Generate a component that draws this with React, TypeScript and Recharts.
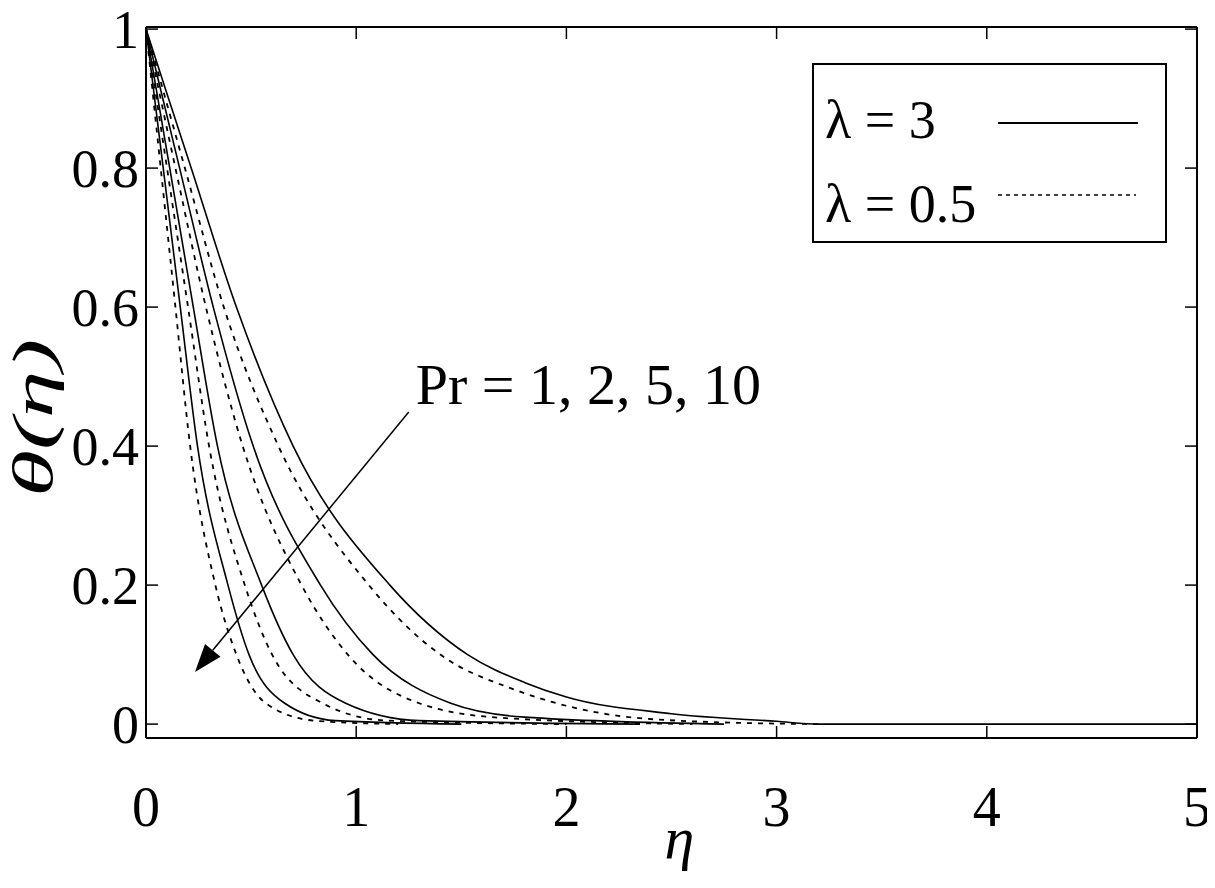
import React from "react";
import { LineChart, Line, XAxis, YAxis, ReferenceLine, Legend, Label } from "recharts";

// eta / theta, one pair of arrays per curve
const etaPr1L3 = [0, 0.215, 0.43, 0.7, 1.16, 1.53, 1.8, 2.0, 2.5, 3.0, 3.2, 5];
const thetaPr1L3 = [1, 0.8, 0.6, 0.4, 0.2, 0.1, 0.06, 0.039, 0.015, 0.004, 0, 0];
const etaPr1L05 = [0, 0.185, 0.37, 0.63, 1.06, 1.4, 1.75, 2.16, 2.6, 3.2];
const thetaPr1L05 = [1, 0.8, 0.6, 0.4, 0.2, 0.1, 0.05, 0.016, 0.004, 0];

const etaPr2L3 = [0, 0.16, 0.32, 0.51, 0.83, 1.08, 1.45, 1.8, 2.75];
const thetaPr2L3 = [1, 0.8, 0.6, 0.4, 0.2, 0.1, 0.03, 0.01, 0];
const etaPr2L05 = [0, 0.14, 0.285, 0.46, 0.74, 0.96, 1.3, 1.69, 2.6];
const thetaPr2L05 = [1, 0.8, 0.6, 0.4, 0.2, 0.1, 0.03, 0.009, 0];

const etaPr5L3 = [0, 0.113, 0.225, 0.34, 0.55, 0.7, 0.95, 1.3, 2.35];
const thetaPr5L3 = [1, 0.8, 0.6, 0.4, 0.2, 0.1, 0.03, 0.005, 0];
const etaPr5L05 = [0, 0.1, 0.2, 0.3, 0.47, 0.6, 0.84, 1.15, 2.0];
const thetaPr5L05 = [1, 0.8, 0.6, 0.4, 0.2, 0.1, 0.03, 0.005, 0];

const etaPr10L3 = [0, 0.082, 0.163, 0.245, 0.39, 0.49, 0.66, 0.9, 1.5];
const thetaPr10L3 = [1, 0.8, 0.6, 0.4, 0.2, 0.1, 0.03, 0.005, 0];
const etaPr10L05 = [0, 0.07, 0.14, 0.21, 0.33, 0.43, 0.57, 0.8, 1.2];
const thetaPr10L05 = [1, 0.8, 0.6, 0.4, 0.2, 0.1, 0.03, 0.005, 0];

const xTicks = [0, 1, 2, 3, 4, 5];
const yTicks = [0, 0.2, 0.4, 0.6, 0.8, 1];
const legendLabels = ["λ = 3", "λ = 0.5"];
const annotation = "Pr = 1, 2, 5, 10";
// arrow runs from the label towards increasing Pr
const arrowFrom = { x: 1.25, y: 0.449 };
const arrowTo = { x: 0.233, y: 0.075 };

const FONT = "'Liberation Serif', 'Times New Roman', serif";

const toPoints = (eta: number[], theta: number[]) =>
  eta.map((e, i) => ({ eta: e, theta: theta[i] }));

const curves = [
  { key: "pr1-l3", data: toPoints(etaPr1L3, thetaPr1L3), dashed: false },
  { key: "pr1-l05", data: toPoints(etaPr1L05, thetaPr1L05), dashed: true },
  { key: "pr2-l3", data: toPoints(etaPr2L3, thetaPr2L3), dashed: false },
  { key: "pr2-l05", data: toPoints(etaPr2L05, thetaPr2L05), dashed: true },
  { key: "pr5-l3", data: toPoints(etaPr5L3, thetaPr5L3), dashed: false },
  { key: "pr5-l05", data: toPoints(etaPr5L05, thetaPr5L05), dashed: true },
  { key: "pr10-l3", data: toPoints(etaPr10L3, thetaPr10L3), dashed: false },
  { key: "pr10-l05", data: toPoints(etaPr10L05, thetaPr10L05), dashed: true },
];

const BottomTick = (props: any) => {
  const { x, y, payload } = props;
  return (
    <g>
      <line x1={x} y1={y} x2={x} y2={y - 12} stroke="#000" strokeWidth={1.5} />
      <text x={x} y={y + 88} textAnchor="middle" fontSize={56} fontFamily={FONT} fill="#000">
        {payload.value}
      </text>
    </g>
  );
};

const LeftTick = (props: any) => {
  const { x, y, payload } = props;
  return (
    <g>
      <line x1={x} y1={y} x2={x + 12} y2={y} stroke="#000" strokeWidth={1.5} />
      <text x={x - 7} y={y} dy="0.35em" textAnchor="end" fontSize={54} fontFamily={FONT} fill="#000">
        {payload.value}
      </text>
    </g>
  );
};

const TopTick = (props: any) => (
  <line x1={props.x} y1={props.y} x2={props.x} y2={props.y + 12} stroke="#000" strokeWidth={1.5} />
);

const RightTick = (props: any) => (
  <line x1={props.x} y1={props.y} x2={props.x - 12} y2={props.y} stroke="#000" strokeWidth={1.5} />
);

const ArrowShape = (props: any) => {
  const { x1, y1, x2, y2 } = props;
  const ang = Math.atan2(y2 - y1, x2 - x1);
  const len = 28;
  const half = 10;
  const bx = x2 - len * Math.cos(ang);
  const by = y2 - len * Math.sin(ang);
  const px = -Math.sin(ang) * half;
  const py = Math.cos(ang) * half;
  return (
    <g>
      <line x1={x1} y1={y1} x2={bx} y2={by} stroke="#000" strokeWidth={1.5} />
      <polygon points={`${x2},${y2} ${bx + px},${by + py} ${bx - px},${by - py}`} fill="#000" />
      <text x={x1 + 7} y={y1 - 8} fontSize={58} fontFamily={FONT} fill="#000">
        {annotation}
      </text>
    </g>
  );
};

const LegendBox = () => (
  <svg width={356} height={181} style={{ display: "block" }}>
    <rect x={1} y={1} width={353} height={178} fill="#fff" stroke="#000" strokeWidth={2} />
    <text x={13} y={75} fontSize={54} fontFamily={FONT} fill="#000">{legendLabels[0]}</text>
    <line x1={186} y1={60} x2={326} y2={60} stroke="#000" strokeWidth={2} />
    <text x={13} y={159} fontSize={54} fontFamily={FONT} fill="#000">{legendLabels[1]}</text>
    <line x1={186} y1={132} x2={324} y2={132} stroke="#000" strokeWidth={1.5} strokeDasharray="4 4" />
  </svg>
);

export default function App() {
  return (
    <div style={{ margin: "-8px 0 0 -8px", width: 1215, height: 886 }}>
      <LineChart
        width={1215}
        height={886}
        margin={{ top: 26, right: 17, bottom: 78, left: 88 }}
        style={{ overflow: "visible" }}
      >
        <XAxis
          dataKey="eta"
          type="number"
          domain={[0, 5]}
          ticks={xTicks}
          allowDataOverflow
          height={70}
          tickSize={0}
          tickMargin={0}
          tick={<BottomTick />}
          axisLine={{ stroke: "#000", strokeWidth: 2 }}
        >
          <Label
            content={(p: any) => (
              <text
                x={p.viewBox.x + p.viewBox.width / 2 + 8}
                y={p.viewBox.y + 120}
                textAnchor="middle"
                fontSize={60}
                fontStyle="italic"
                fontFamily={FONT}
                fill="#000"
              >
                η
              </text>
            )}
          />
        </XAxis>
        <XAxis
          xAxisId="top"
          dataKey="eta"
          orientation="top"
          type="number"
          domain={[0, 5]}
          ticks={xTicks}
          allowDataOverflow
          height={1}
          tickSize={0}
          tickMargin={0}
          tick={<TopTick />}
          axisLine={{ stroke: "#000", strokeWidth: 2 }}
        />
        <YAxis
          type="number"
          domain={[-0.02, 1.003]}
          ticks={yTicks}
          allowDataOverflow
          width={58}
          tickSize={0}
          tickMargin={0}
          tick={<LeftTick />}
          axisLine={{ stroke: "#000", strokeWidth: 2 }}
        >
          <Label
            content={() => (
              <text
                transform={`translate(32, 418) rotate(-90)`}
                textAnchor="middle"
                dominantBaseline="central"
                fontSize={58}
                fontStyle="italic"
                fontFamily={FONT}
                textLength={158}
                lengthAdjust="spacingAndGlyphs"
                fill="#000"
              >
                θ(η)
              </text>
            )}
          />
        </YAxis>
        <YAxis
          yAxisId="right"
          orientation="right"
          type="number"
          domain={[-0.02, 1.003]}
          ticks={yTicks}
          allowDataOverflow
          width={1}
          tickSize={0}
          tickMargin={0}
          tick={<RightTick />}
          axisLine={{ stroke: "#000", strokeWidth: 2 }}
        />
        {curves.map((c) => (
          <Line
            key={c.key}
            data={c.data}
            dataKey="theta"
            xAxisId={c.dashed ? "top" : 0}
            yAxisId={c.dashed ? "right" : 0}
            type="monotone"
            stroke="#000"
            strokeWidth={c.dashed ? 1.8 : 1.6}
            strokeDasharray={c.dashed ? "5 6" : undefined}
            dot={false}
            activeDot={false}
            isAnimationActive={false}
          />
        ))}
        <ReferenceLine
          segment={[arrowFrom, arrowTo]}
          ifOverflow="visible"
          shape={(p: any) => <ArrowShape {...p} />}
        />
        <Legend
          layout="horizontal"
          verticalAlign="middle"
          align="center"
          content={() => <LegendBox />}
          wrapperStyle={{ position: "absolute", left: 812, top: 63, width: 356, height: 181 }}
        />
      </LineChart>
    </div>
  );
}
